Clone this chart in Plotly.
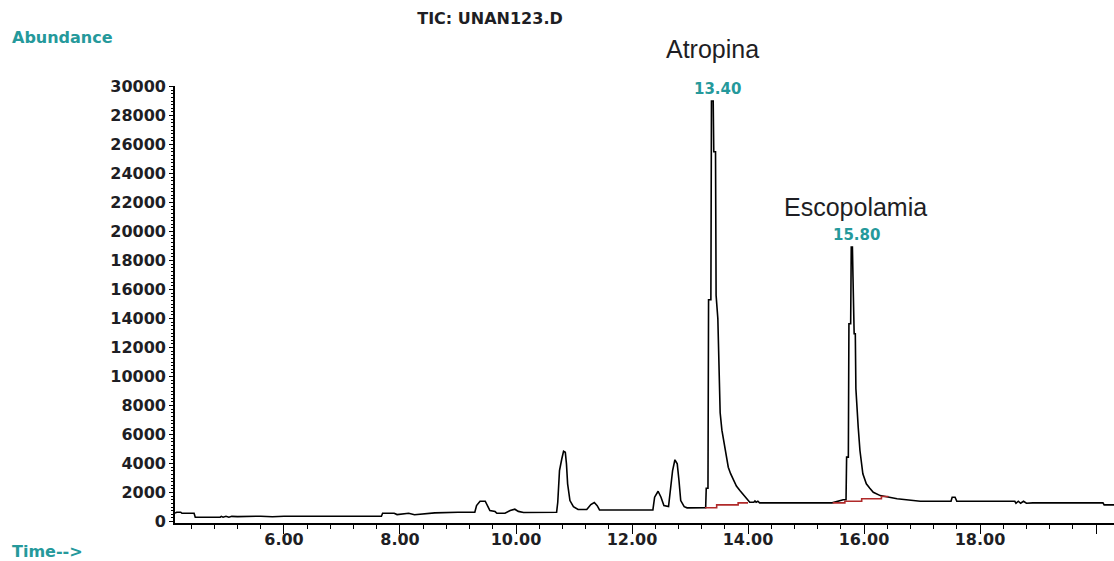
import plotly.graph_objects as go

# ---- data ----
time_min = [
    4.12, 4.15, 4.22, 4.24, 4.45, 4.47, 4.90, 4.92, 4.95, 5.00, 5.05, 5.10, 5.20, 5.40, 5.50, 5.60, 5.80, 6.00,
    6.50, 7.00, 7.68, 7.70, 7.90, 7.95, 8.05, 8.15, 8.25, 8.35, 8.42, 8.60, 9.00, 9.29,
    9.32, 9.38, 9.47, 9.52, 9.55, 9.64, 9.67, 9.81, 9.90, 9.98, 10.04, 10.13, 10.70,
    10.72, 10.75, 10.79, 10.82, 10.85, 10.87, 10.89, 10.93, 10.99, 11.07, 11.22,
    11.29, 11.35, 11.40, 11.44, 12.36, 12.39, 12.45, 12.50, 12.55, 12.63, 12.67, 12.70,
    12.74, 12.78, 12.81, 12.84, 12.90, 12.95, 13.27,
    13.28, 13.31, 13.32, 13.36, 13.37, 13.40, 13.41, 13.44, 13.45, 13.48, 13.50, 13.52,
    13.55, 13.60, 13.66, 13.70, 13.75, 13.80, 13.86, 13.92, 13.98, 14.03, 14.10, 14.12,
    14.14, 14.17, 14.20, 14.60, 15.00, 15.45,
    15.64, 15.69, 15.70, 15.73, 15.74, 15.77, 15.78, 15.80, 15.81, 15.83, 15.85, 15.86,
    15.90, 15.93, 15.98, 16.04, 16.10, 16.16, 16.28, 16.57, 16.97, 17.30, 17.50, 17.52,
    17.57, 17.60, 18.60, 18.62, 18.66, 18.70, 18.75, 18.80, 18.91, 19.50, 20.12, 20.14, 20.31,
]
abundance = [
    580, 640, 640, 570, 570, 300, 300, 360, 300, 360, 300, 360, 340, 360, 320, 370, 330, 370,
    370, 370, 370, 570, 570, 480, 500, 570, 470, 500, 570, 600, 640, 640,
    1100, 1400, 1400, 990, 760, 690, 575, 575, 760, 850, 700, 620, 640,
    1330, 3520, 4330, 4850, 4780, 3980, 2600, 1450, 1030, 830, 830,
    1170, 1310, 1100, 800, 800, 1680, 2090, 1680, 1100, 1030, 2250, 3520,
    4260, 3980, 2830, 1450, 1030, 945, 950,
    2300, 2300, 15300, 15300, 29000, 29000, 25500, 25500, 15600, 14000, 9500, 7500,
    6300, 5100, 3750, 3300, 2830, 2450, 2140, 1850, 1570, 1330, 1330, 1420,
    1330, 1400, 1290, 1290, 1290, 1290,
    1500, 1500, 4440, 4440, 13640, 13640, 18930, 18930, 16860, 12950, 12950, 9160,
    6500, 4900, 3290, 2600, 2300, 2020, 1790, 1570, 1400, 1400, 1400, 1680,
    1680, 1400, 1400, 1260, 1400, 1260, 1400, 1260, 1290, 1290, 1290, 1150, 1150,
]

# integration baselines (red)
base1_time = [13.26, 13.46, 13.83, 14.00]
base1_abund = [950, 1150, 1290, 1290]
base2_time = [15.46, 15.67, 15.96, 16.30, 16.42]
base2_abund = [1290, 1400, 1570, 1725, 1725]

# peak labels
peak_rt = [13.40, 15.80]
peak_height = [29000, 18930]
peak_rt_text = ["13.40", "15.80"]
peak_names = ["Atropina", "Escopolamia"]

y_tick_vals = list(range(0, 30001, 2000))
y_tick_text = [str(v) for v in y_tick_vals]
x_tick_vals = [6, 8, 10, 12, 14, 16, 18, 20]
x_tick_text = ["6.00", "8.00", "10.00", "12.00", "14.00", "16.00", "18.00", ""]

TEAL = "#25999b"
INK = "#1e1e24"
TICK_FONT = dict(family="DejaVu Sans", size=16, color=INK, weight="bold")

fig = go.Figure()
fig.add_trace(go.Scatter(x=time_min, y=abundance, mode="lines",
                         line=dict(color="#000000", width=1.6), hoverinfo="x+y"))
fig.add_trace(go.Scatter(x=base1_time, y=base1_abund, mode="lines",
                         line=dict(color="#b02a2a", width=1.6, shape="hv")))
fig.add_trace(go.Scatter(x=base2_time, y=base2_abund, mode="lines",
                         line=dict(color="#b02a2a", width=1.6, shape="hv")))

annotations = []
name_shift = [(-1, 52), (3, 40)]
for rt, h, txt, nm, (dx, dy) in zip(peak_rt, peak_height, peak_rt_text, peak_names, name_shift):
    annotations.append(dict(x=rt, y=h, xref="x", yref="y", text=txt, showarrow=False,
                            xanchor="center", yanchor="bottom", xshift=4, yshift=1,
                            font=dict(family="DejaVu Sans", size=15, color=TEAL, weight="bold")))
    annotations.append(dict(x=rt, y=h, xref="x", yref="y", text=nm, showarrow=False,
                            xanchor="center", yanchor="middle", xshift=dx, yshift=dy,
                            font=dict(family="Liberation Sans", size=25, color=INK)))

W, H = 1114, 561
ML, MR, MT, MB = 175, 0, 86, 38
pw, ph = W - ML - MR, H - MT - MB

# axis captions placed by pixel position (left edge, vertical centre)
caption_text = ["Abundance", "Time-->"]
caption_px = [(10, 38), (10, 551)]
for txt, (px, py) in zip(caption_text, caption_px):
    annotations.append(dict(x=(px - ML) / pw, y=(H - MB - py) / ph, xref="paper", yref="paper",
                            text=txt, showarrow=False, xanchor="left", yanchor="middle",
                            font=dict(family="DejaVu Sans", size=16, color=TEAL, weight="bold")))

fig.update_layout(
    width=W, height=H,
    margin=dict(l=ML, r=MR, t=MT, b=MB),
    paper_bgcolor="white", plot_bgcolor="white",
    showlegend=False,
    title=dict(text="TIC: UNAN123.D", x=490 / W, xanchor="center", xref="container",
               y=1 - 18 / H, yanchor="middle", yref="container",
               font=dict(family="DejaVu Sans", size=16, color=INK, weight="bold")),
    annotations=annotations,
)

fig.update_xaxes(range=[4.121, 20.31], showgrid=False, zeroline=False,
                 showline=True, linecolor="#000", linewidth=1.6,
                 tickmode="array", tickvals=x_tick_vals, ticktext=x_tick_text,
                 ticks="outside", ticklen=9, tickwidth=1.4, tickcolor="#000",
                 ticklabelstandoff=-8,
                 minor=dict(ticks="outside", dtick=0.4, tick0=0, ticklen=4, tickwidth=1.2,
                            tickcolor="#000", showgrid=False),
                 tickfont=TICK_FONT)
fig.update_yaxes(range=[-100, 30038], showgrid=False, zeroline=False,
                 showline=True, linecolor="#000", linewidth=1.6,
                 tickmode="array", tickvals=y_tick_vals, ticktext=y_tick_text,
                 ticks="outside", ticklen=4, tickwidth=1.4, tickcolor="#000",
                 minor=dict(ticks="outside", dtick=250, tick0=0, ticklen=2, tickwidth=1,
                            tickcolor="#000", showgrid=False),
                 tickfont=TICK_FONT)

fig.write_html("out.html", config={"displayModeBar": False},
               post_script="document.body.style.margin='0px';document.body.style.overflow='hidden';")
